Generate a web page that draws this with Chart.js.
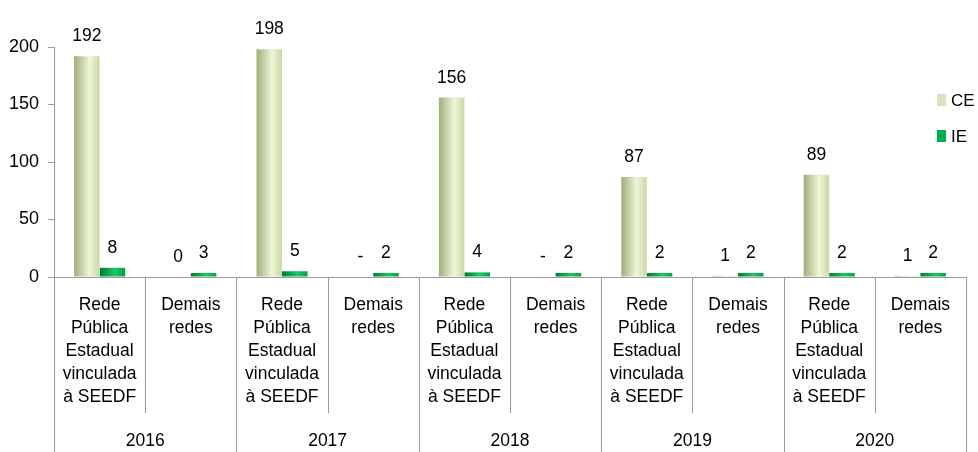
<!DOCTYPE html>
<html>
<head>
<meta charset="utf-8">
<script src="https://cdn.jsdelivr.net/npm/chart.js@4.4.1/dist/chart.umd.min.js"></script>
<style>
  body { margin: 0; background: #fff; }
  #wrap { position: relative; width: 978px; height: 452px; }
  .leg { position: absolute; left: 937px; font: 17px "Liberation Sans", Arial, sans-serif; color: #000; line-height: 18px; }
  .leg span { display: inline-block; width: 9px; height: 12px; margin-right: 5px; vertical-align: 0px; }
</style>
</head>
<body>
<div id="wrap">
  <canvas id="c" width="978" height="452"></canvas>
  <div class="leg" style="top:92px"><span style="background:#d7e4bd"></span>CE</div>
  <div class="leg" style="top:128px"><span style="background:#00b050"></span>IE</div>
</div>
<script>
// chart data
const years = ['2016', '2017', '2018', '2019', '2020'];
const networks = [
  ['Rede', 'Pública', 'Estadual', 'vinculada', 'à SEEDF'],
  ['Demais', 'redes']
];
const ceValues = [192, 0, 198, 0, 156, 0, 87, 1, 89, 1];
const ceLabels = ['192', '0', '198', '-', '156', '-', '87', '1', '89', '1'];
const ieValues = [8, 3, 5, 2, 4, 2, 2, 2, 2, 2];
const ieLabels = ['8', '3', '5', '2', '4', '2', '2', '2', '2', '2'];
const yTicks = [0, 50, 100, 150, 200];

const categories = [];
years.forEach(() => networks.forEach(n => categories.push(n)));

const FONT = '"Liberation Sans", Arial, sans-serif';
const CAT_PCT = 0.56;

// cylinder-ish shading for each bar
function cylinder(base, dark, light) {
  return function (context) {
    const chart = context.chart;
    const x = chart.scales.x;
    if (!x || context.dataIndex === undefined) return base;
    const step = x.getPixelForValue(1) - x.getPixelForValue(0);
    const center = x.getPixelForValue(context.dataIndex);
    const w = step * CAT_PCT / 2;
    const left = context.datasetIndex === 0 ? center - w : center;
    if (!isFinite(left) || !isFinite(w) || w <= 0) return base;
    const g = chart.ctx.createLinearGradient(left, 0, left + w, 0);
    g.addColorStop(0, dark);
    g.addColorStop(0.6, light);
    g.addColorStop(1, base);
    return g;
  };
}

const valueLabels = {
  id: 'valueLabels',
  afterDatasetsDraw(chart) {
    const ctx = chart.ctx;
    const texts = [ceLabels, ieLabels];
    ctx.save();
    ctx.font = '17.5px ' + FONT;
    ctx.fillStyle = '#000';
    ctx.textAlign = 'center';
    ctx.textBaseline = 'bottom';
    chart.data.datasets.forEach((ds, i) => {
      chart.getDatasetMeta(i).data.forEach((bar, j) => {
        ctx.fillText(texts[i][j], bar.x, bar.y - 11);
      });
    });
    ctx.restore();
  }
};

const tableLines = {
  id: 'tableLines',
  afterDraw(chart) {
    const { ctx, chartArea, scales } = chart;
    const x = scales.x;
    const half = (x.getPixelForValue(1) - x.getPixelForValue(0)) / 2;
    ctx.save();
    ctx.strokeStyle = '#9a9a9a';
    ctx.lineWidth = 1;
    // floor edge
    ctx.beginPath();
    ctx.moveTo(chartArea.left, chartArea.bottom + 0.5);
    ctx.lineTo(chartArea.right, chartArea.bottom + 0.5);
    ctx.stroke();
    for (let i = 0; i <= categories.length; i++) {
      const px = Math.round(x.getPixelForValue(i) - half) + 0.5;
      const end = i % 2 === 0 ? scales.x2.bottom : x.bottom - 4;
      ctx.beginPath();
      ctx.moveTo(px, chartArea.bottom);
      ctx.lineTo(px, end);
      ctx.stroke();
    }
    ctx.restore();
  }
};

new Chart(document.getElementById('c'), {
  type: 'bar',
  data: {
    labels: categories,
    datasets: [{
      label: 'CE',
      data: ceValues,
      backgroundColor: cylinder('#c9d8a6', '#9fae7c', '#eef6d6'),
      categoryPercentage: CAT_PCT,
      barPercentage: 1.0
    }, {
      label: 'IE',
      data: ieValues,
      backgroundColor: cylinder('#00a146', '#007a33', '#19c866'),
      categoryPercentage: CAT_PCT,
      barPercentage: 1.0,
      minBarLength: 4
    }]
  },
  options: {
    responsive: false,
    devicePixelRatio: 1,
    animation: false,
    layout: { padding: { left: 0, right: 12, top: 47, bottom: 0 } },
    plugins: {
      legend: { display: false },
      tooltip: { enabled: false }
    },
    scales: {
      y: {
        min: 0,
        max: 200,
        afterBuildTicks: axis => { axis.ticks = yTicks.map(v => ({ value: v })); },
        grid: { drawOnChartArea: false, color: '#9a9a9a', tickLength: 6 },
        border: { color: '#9a9a9a' },
        ticks: { color: '#000', font: { family: FONT, size: 18 }, padding: 9 }
      },
      x: {
        afterFit: axis => { axis.height = 140; },
        grid: { display: false },
        border: { display: false },
        ticks: {
          color: '#000',
          font: { family: FONT, size: 17.5, lineHeight: 1.314 },
          padding: 9,
          maxRotation: 0,
          autoSkip: false
        }
      },
      x2: {
        type: 'category',
        position: 'bottom',
        labels: years,
        afterFit: axis => { axis.height = 35; },
        grid: { display: false },
        border: { display: false },
        ticks: {
          color: '#000',
          font: { family: FONT, size: 17.5 },
          padding: 6,
          maxRotation: 0
        }
      }
    }
  },
  plugins: [valueLabels, tableLines]
});
</script>
</body>
</html>
